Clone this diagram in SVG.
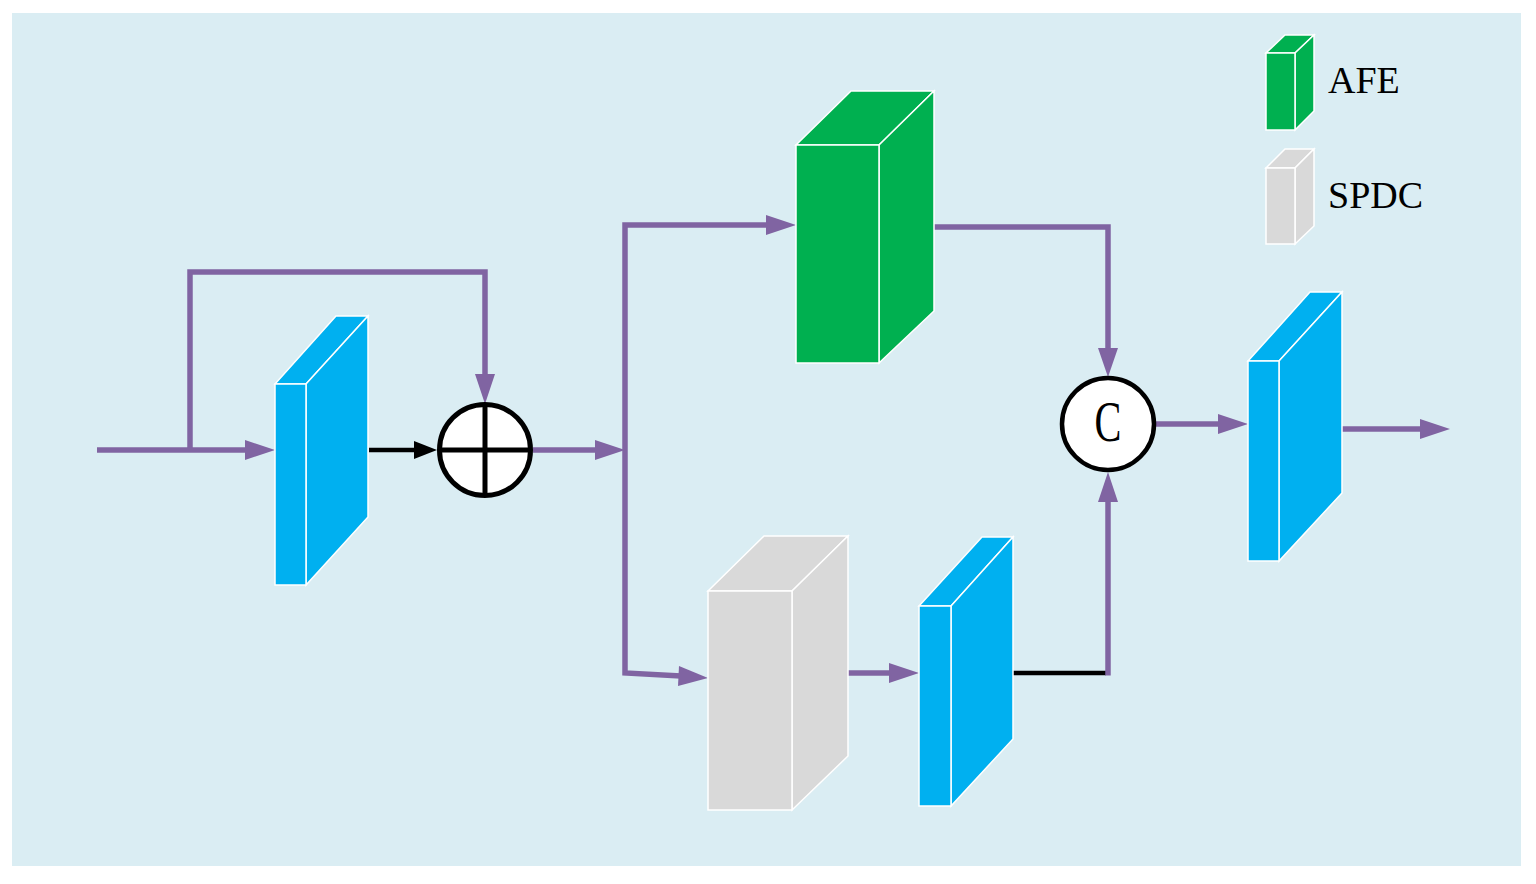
<svg xmlns="http://www.w3.org/2000/svg" width="1536" height="884" viewBox="0 0 1536 884">
<style>
.bg{fill:#DAEDF3}
.box path{stroke:#FFFFFF;stroke-width:1.5;stroke-linejoin:miter}
.blue{fill:#00B0F0}
.green{fill:#00B050}
.gray{fill:#D9D9D9}
.pl{fill:none;stroke:#8064A2;stroke-width:5.5;stroke-linecap:butt;stroke-linejoin:miter}
.bl{fill:none;stroke:#000;stroke-width:4.5}
.ah{fill:#8064A2}
.bh{fill:#000}
.lbl{font-family:"Liberation Serif","Times New Roman",serif;font-size:38px;fill:#000}
</style>
<rect class="bg" x="12" y="13" width="1509" height="853"/>

<g id="connectors">
  <path class="pl" d="M97,450 H250" stroke-linecap="round"/>
  <path class="pl" d="M190,450 V272 H485 V376"/>
  <path class="bl" d="M369,450 H416"/>
  <path class="pl" d="M533,450 H598"/>
  <path class="pl" d="M625,450 V225 H768"/>
  <path class="pl" d="M625,450 V673 L681,676"/>
  <path class="pl" d="M934,227 H1108 V350"/>
  <path class="pl" d="M848,673 H892" stroke-linecap="round"/>
  <path class="bl" d="M1013,673 H1106"/>
  <path class="pl" d="M1108,675.5 V500"/>
  <path class="pl" d="M1156,424 H1220"/>
  <path class="pl" d="M1342,429 H1422"/>
  <polygon class="ah" points="275,450 245,440 245,460"/>
  <polygon class="ah" points="485,404 475,374 495,374"/>
  <polygon class="bh" points="437,450 414,441 414,459"/>
  <polygon class="ah" points="625,450 595,440 595,460"/>
  <polygon class="ah" points="796,225 766,215 766,235"/>
  <polygon class="ah" points="708,678 679,666 678,686"/>
  <polygon class="ah" points="1108,377 1098,348 1118,348"/>
  <polygon class="ah" points="919,673 889,663 889,683"/>
  <polygon class="ah" points="1108,472 1098,502 1118,502"/>
  <polygon class="ah" points="1248,424 1218,414 1218,434"/>
  <polygon class="ah" points="1450,429 1420,419 1420,439"/>
</g>

<g id="blue1" class="box">
  <path class="blue" d="M275,384 L336,316 H368 L306,384 Z"/>
  <path class="blue" d="M306,384 L368,316 V517 L306,585 Z"/>
  <path class="blue" d="M275,384 H306 V585 H275 Z"/>
</g>

<g id="add">
  <circle cx="485" cy="450" r="45.5" fill="#FFFFFF" stroke="#000" stroke-width="5"/>
  <path d="M485,404 V496 M439,450 H531" stroke="#000" stroke-width="5" fill="none"/>
</g>

<g id="afe" class="box">
  <path class="green" d="M796,145 L851,91 H934 L879,145 Z"/>
  <path class="green" d="M879,145 L934,91 V311 L879,363 Z"/>
  <path class="green" d="M796,145 H879 V363 H796 Z"/>
</g>

<g id="spdc" class="box">
  <path class="gray" d="M708,591 L764,536 H848 L792,591 Z"/>
  <path class="gray" d="M792,591 L848,536 V756 L792,810 Z"/>
  <path class="gray" d="M708,591 H792 V810 H708 Z"/>
</g>

<g id="blue2" class="box">
  <path class="blue" d="M919,606 L982,537 H1013 L951,606 Z"/>
  <path class="blue" d="M951,606 L1013,537 V739 L951,806 Z"/>
  <path class="blue" d="M919,606 H951 V806 H919 Z"/>
</g>

<g id="concat">
  <circle cx="1108" cy="424" r="46" fill="#FFFFFF" stroke="#000" stroke-width="4.5"/>
  <text x="1108" y="441" text-anchor="middle" font-family="Liberation Serif, Times New Roman, serif" font-size="56" transform="translate(1108 0) scale(0.72 1) translate(-1108 0)">C</text>
</g>

<g id="blue3" class="box">
  <path class="blue" d="M1248,361 L1310,292 H1342 L1279,361 Z"/>
  <path class="blue" d="M1279,361 L1342,292 V493 L1279,561 Z"/>
  <path class="blue" d="M1248,361 H1279 V561 H1248 Z"/>
</g>

<g id="legend-afe" class="box">
  <path class="green" d="M1266,53 L1285,35 H1314 L1295,53 Z"/>
  <path class="green" d="M1295,53 L1314,35 V111 L1295,130 Z"/>
  <path class="green" d="M1266,53 H1295 V130 H1266 Z"/>
  <text class="lbl" x="1328" y="93">AFE</text>
</g>

<g id="legend-spdc" class="box">
  <path class="gray" d="M1266,168 L1285,149 H1314 L1295,168 Z"/>
  <path class="gray" d="M1295,168 L1314,149 V226 L1295,244 Z"/>
  <path class="gray" d="M1266,168 H1295 V244 H1266 Z"/>
  <text class="lbl" x="1328" y="208">SPDC</text>
</g>
</svg>
